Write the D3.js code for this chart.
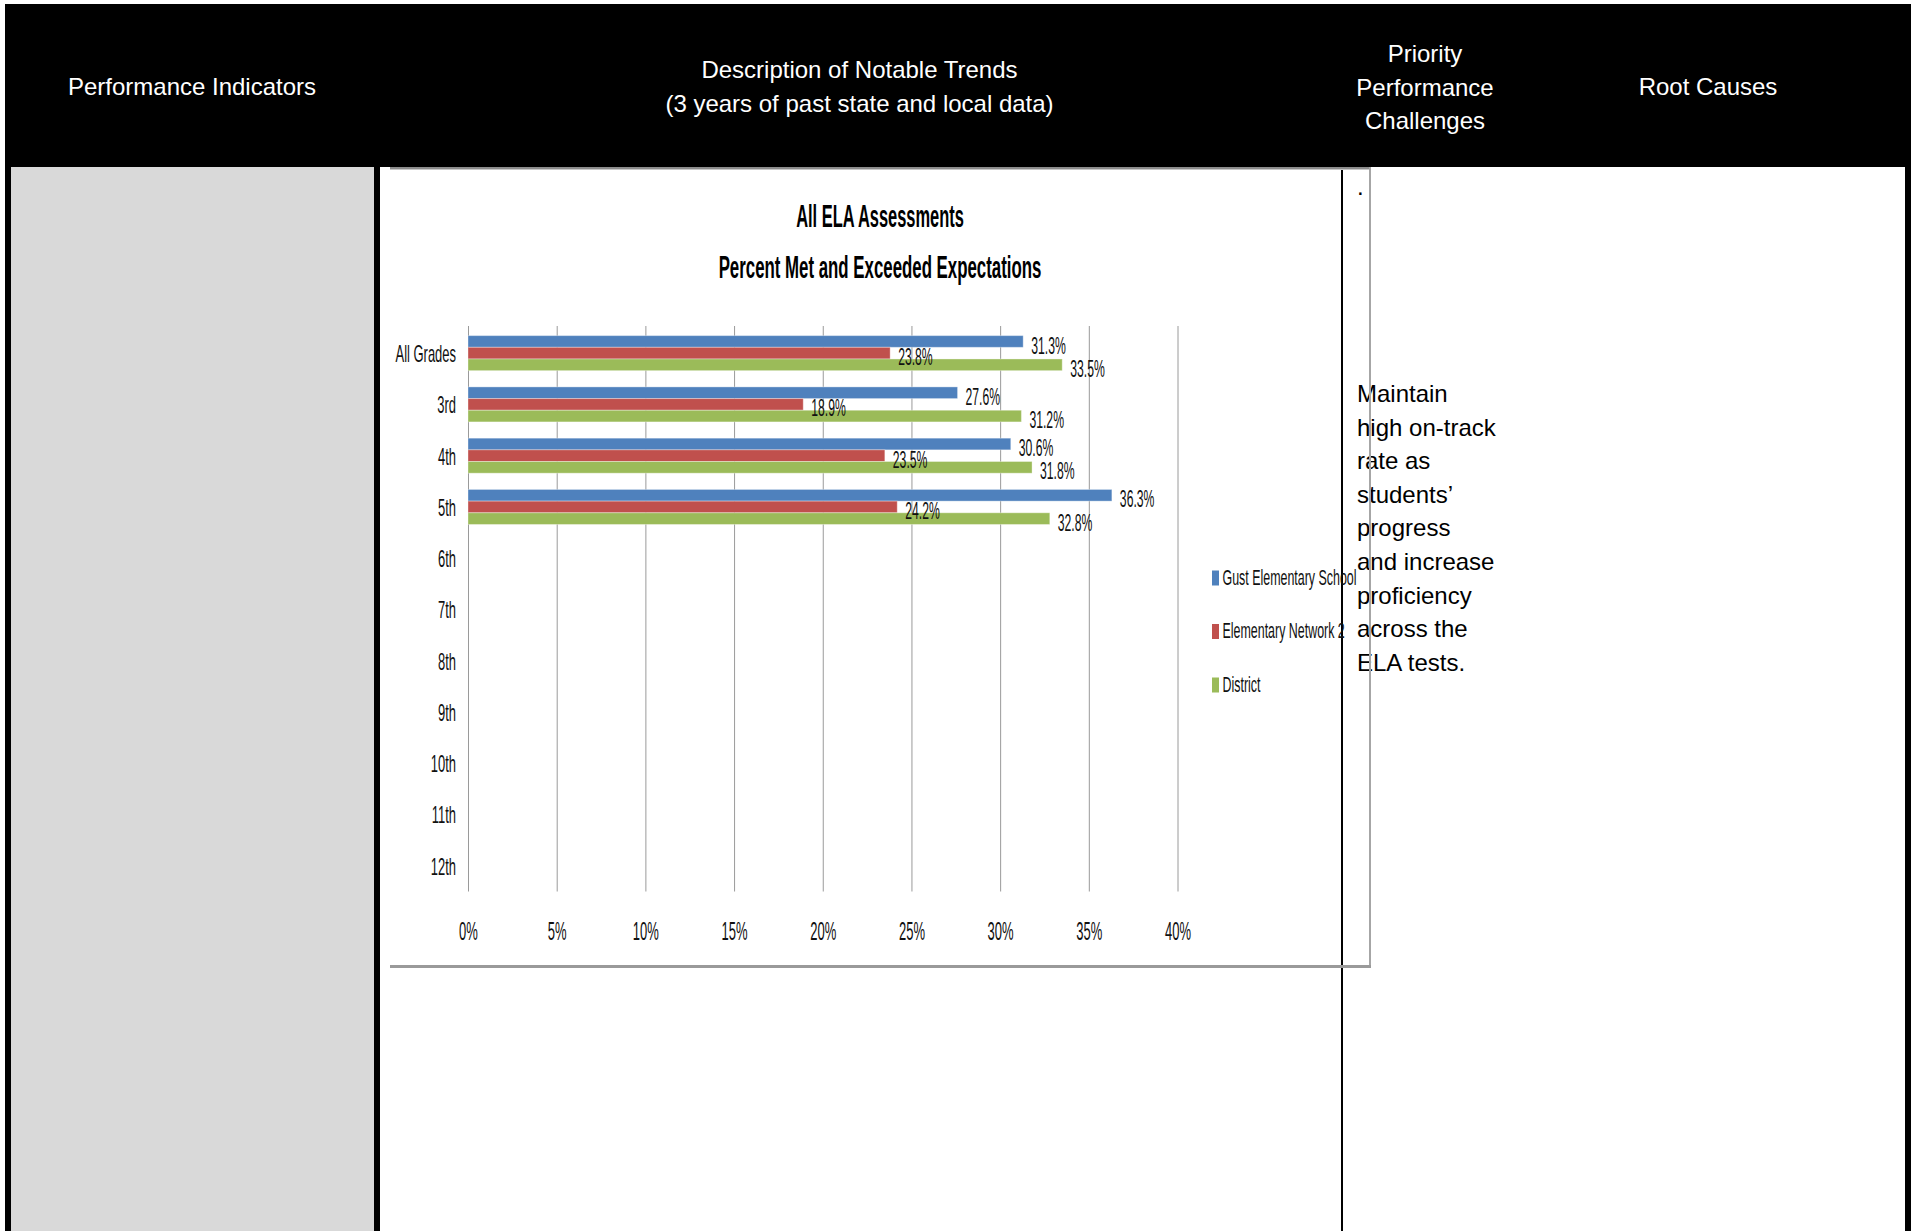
<!DOCTYPE html>
<html><head><meta charset="utf-8">
<script src="https://cdn.jsdelivr.net/npm/d3@7"></script>
<style>body{margin:0;background:#fff;} svg{display:block;}</style>
</head><body><svg id="c" width="1915" height="1231"></svg>
<script>
// ---------- data ----------
const categories = ["All Grades","3rd","4th","5th","6th","7th","8th","9th","10th","11th","12th"];
const seriesNames = ["Gust Elementary School","Elementary Network 2","District"];
const gustValues     = [0.313, 0.276, 0.306, 0.363, null, null, null, null, null, null, null];
const networkValues  = [0.238, 0.189, 0.235, 0.242, null, null, null, null, null, null, null];
const districtValues = [0.335, 0.312, 0.318, 0.328, null, null, null, null, null, null, null];
const xTicks = [0, 0.05, 0.10, 0.15, 0.20, 0.25, 0.30, 0.35, 0.40];
const chartTitle = ["All ELA Assessments", "Percent Met and Exceeded Expectations"];
const headerPerf = ["Performance Indicators"];
const headerTrends = ["Description of Notable Trends", "(3 years of past state and local data)"];
const headerPriority = ["Priority", "Performance", "Challenges"];
const headerRoot = ["Root Causes"];
const challengeLines = ["Maintain","high on-track","rate as","students\u2019","progress","and increase","proficiency","across the","ELA tests."];

const seriesColors = ["#4F81BD", "#C0504D", "#9BBB59"];
const series = [gustValues, networkValues, districtValues];

const svg = d3.select("#c");
const FONT = "'Liberation Sans', Arial, sans-serif";

function condense(sel, k) {
  sel.each(function () {
    const kk = typeof k === "function" ? k.apply(this, arguments) : k;
    const w = this.getComputedTextLength();
    if (w > 0) {
      this.setAttribute("textLength", (w * kk).toFixed(2));
      this.setAttribute("lengthAdjust", "spacingAndGlyphs");
    }
  });
}

// ---------- table layout ----------
svg.append("rect").attr("x", 5).attr("y", 4).attr("width", 1906).attr("height", 163).attr("fill", "#000");
svg.append("rect").attr("x", 5).attr("y", 167).attr("width", 6).attr("height", 1064).attr("fill", "#000");
svg.append("rect").attr("x", 11).attr("y", 167).attr("width", 363).attr("height", 1064).attr("fill", "#D9D9D9");
svg.append("rect").attr("x", 374).attr("y", 167).attr("width", 6).attr("height", 1064).attr("fill", "#000");
svg.append("rect").attr("x", 1341).attr("y", 167).attr("width", 2).attr("height", 1064).attr("fill", "#000");
svg.append("rect").attr("x", 1905).attr("y", 167).attr("width", 6).attr("height", 1064).attr("fill", "#000");

function headerText(lines, cx, firstBase, step) {
  svg.append("g").selectAll("text").data(lines).join("text")
    .attr("x", cx).attr("y", (d, i) => firstBase + i * step)
    .attr("text-anchor", "middle").attr("fill", "#fff")
    .attr("font-family", FONT).attr("font-size", 24)
    .text(d => d);
}
headerText(headerPerf, 192, 95, 0);
headerText(headerTrends, 859.5, 78, 33.5);
headerText(headerPriority, 1425, 62, 33.5);
headerText(headerRoot, 1708, 95, 0);

// right column text
svg.append("text").attr("x", 1357).attr("y", 195).attr("font-family", FONT)
  .attr("font-size", 24).attr("fill", "#000").text(".");
svg.append("g").selectAll("text").data(challengeLines).join("text")
  .attr("x", 1357).attr("y", (d, i) => 402 + i * 33.6)
  .attr("font-family", FONT).attr("font-size", 24).attr("fill", "#000")
  .text(d => d);

// ---------- chart box ----------
const box = svg.append("g");
box.append("rect").attr("x", 390).attr("y", 167).attr("width", 981).attr("height", 2).attr("fill", "#8c8c8c");
box.append("rect").attr("x", 390).attr("y", 169).attr("width", 981).attr("height", 1).attr("fill", "#c8c8c8");
box.append("rect").attr("x", 1369).attr("y", 167).attr("width", 2).attr("height", 801).attr("fill", "#a6a6a6");
box.append("rect").attr("x", 390).attr("y", 965).attr("width", 981).attr("height", 3).attr("fill", "#9a9a9a");

// ---------- chart ----------
const x = d3.scaleLinear().domain([0, 0.40]).range([468, 1177.5]);
const y = d3.scaleBand().domain(categories).range([327.5, 891.5]).padding(0);
const barH = y.bandwidth() * 0.2276;

const chart = svg.append("g");

// gridlines
chart.append("g")
  .attr("transform", `translate(0,${y.range()[1]})`)
  .call(d3.axisBottom(x).tickValues(xTicks).tickSize(-(y.range()[1] - y.range()[0] + 1.5)).tickFormat(""))
  .call(g => g.select(".domain").remove())
  .call(g => g.selectAll("line").attr("stroke", "#9a9a9a").attr("stroke-width", 1));

// x labels
const xAxis = chart.append("g")
  .attr("transform", `translate(0,${y.range()[1]})`)
  .call(d3.axisBottom(x).tickValues(xTicks).tickSize(0).tickPadding(0).tickFormat(d3.format(".0%")))
  .call(g => g.select(".domain").remove());
xAxis.selectAll("text").attr("y", 42).attr("dy", 0).attr("dominant-baseline", "middle")
  .attr("font-family", FONT).attr("font-size", 25).attr("fill", "#111");
condense(xAxis.selectAll("text"), 0.52);

// y labels
const yAxis = chart.append("g")
  .attr("transform", `translate(${x(0)},2.5)`)
  .call(d3.axisLeft(y).tickSize(0).tickPadding(12))
  .call(g => g.select(".domain").remove());
yAxis.selectAll("text").attr("dy", 0).attr("dominant-baseline", "middle")
  .attr("font-family", FONT).attr("font-size", 24).attr("fill", "#111");
condense(yAxis.selectAll("text"), 0.54);

// bars (all bars first, labels on top)
const fmt = d3.format(".1%");
const barTop = (c, si) => y(c) + y.bandwidth() / 2 - 1.5 * barH + si * barH;
const barLayers = chart.append("g");
const labelLayers = chart.append("g");
series.forEach((vals, si) => {
  const data = categories.map((c, i) => ({ c, v: vals[i] })).filter(d => d.v != null);
  barLayers.append("g").selectAll("rect").data(data).join("rect")
    .attr("x", x(0)).attr("y", d => barTop(d.c, si))
    .attr("width", d => x(d.v) - x(0)).attr("height", barH)
    .attr("fill", seriesColors[si])
    .attr("stroke", "rgba(255,255,255,0.35)").attr("stroke-width", 1);
  const lbl = labelLayers.append("g").selectAll("text").data(data).join("text")
    .attr("x", d => x(d.v) + 8).attr("y", d => barTop(d.c, si) + barH / 2 + 6)
    .attr("dominant-baseline", "middle")
    .attr("font-family", FONT).attr("font-size", 23).attr("fill", "#111")
    .text(d => fmt(d.v));
  condense(lbl, 0.53);
});

// titles
const tt = chart.append("g").selectAll("text").data(chartTitle).join("text")
  .attr("x", 880).attr("y", (d, i) => 227 + i * 51)
  .attr("text-anchor", "middle").attr("font-family", FONT)
  .attr("font-weight", "bold").attr("font-size", 31).attr("fill", "#000")
  .text(d => d);
condense(tt, (d, i) => i === 0 ? 0.53 : 0.543);

// legend
const leg = chart.append("g").selectAll("g").data(seriesNames).join("g")
  .attr("transform", (d, i) => `translate(1212,${578 + i * 53.5})`);
leg.append("rect").attr("x", 0).attr("y", -7.5).attr("width", 7).attr("height", 15)
  .attr("fill", (d, i) => seriesColors[i]);
const legText = leg.append("text").attr("x", 10.5).attr("y", 1).attr("dominant-baseline", "middle")
  .attr("font-family", FONT).attr("font-size", 22).attr("fill", "#111").text(d => d);
condense(legText, 0.565);
</script>
</body></html>
